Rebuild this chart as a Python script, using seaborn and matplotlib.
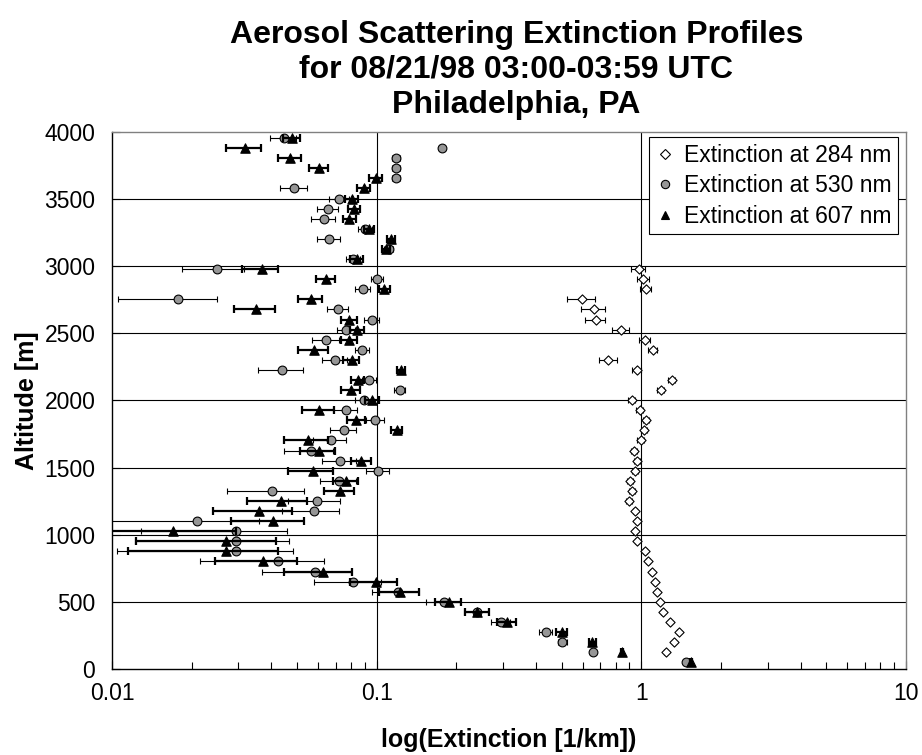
import numpy as np
import pandas as pd
import matplotlib
matplotlib.use("Agg")
import matplotlib.pyplot as plt
import seaborn as sns
from matplotlib.lines import Line2D
from matplotlib.ticker import FixedLocator, LogLocator, NullFormatter, FixedFormatter

# ---------------- data ----------------
altitude = [52.5, 127.5, 202.5, 277.5, 352.5, 427.5, 502.5, 577.5, 652.5, 727.5,
            802.5, 877.5, 952.5, 1027.5, 1102.5, 1177.5, 1252.5, 1327.5, 1402.5, 1477.5,
            1552.5, 1627.5, 1702.5, 1777.5, 1852.5, 1927.5, 2002.5, 2077.5, 2152.5, 2227.5,
            2302.5, 2377.5, 2452.5, 2527.5, 2602.5, 2677.5, 2752.5, 2827.5, 2902.5, 2977.5,
            3052.5, 3127.5, 3202.5, 3277.5, 3352.5, 3427.5, 3502.5, 3577.5, 3652.5, 3727.5,
            3802.5, 3877.5, 3952.5]

ext_284 = [np.nan, 1.235, 1.328, 1.383, 1.282, 1.204, 1.176, 1.148, 1.126, 1.093,
           1.059, 1.032, 0.960, 0.946, 0.960, 0.946, 0.900, 0.922, 0.906, 0.948,
           0.965, 0.940, 0.996, 1.023, 1.041, 0.988, 0.919, 1.183, 1.305, 0.960,
           0.750, 1.103, 1.032, 0.838, 0.672, 0.662, 0.597, 1.038, 1.017, 0.977,
           np.nan, np.nan, np.nan, np.nan, np.nan, np.nan, np.nan, np.nan, np.nan, np.nan,
           np.nan, np.nan, np.nan]
err_284 = [np.nan, 0.015, 0.015, 0.015, 0.015, 0.015, 0.015, 0.015, 0.015, 0.015,
           0.015, 0.015, 0.015, 0.015, 0.015, 0.015, 0.025, 0.025, 0.025, 0.025,
           0.025, 0.025, 0.030, 0.030, 0.030, 0.030, 0.030, 0.040, 0.040, 0.040,
           0.060, 0.040, 0.050, 0.060, 0.060, 0.070, 0.072, 0.050, 0.050, 0.060,
           np.nan, np.nan, np.nan, np.nan, np.nan, np.nan, np.nan, np.nan, np.nan, np.nan,
           np.nan, np.nan, np.nan]

ext_530 = [1.474, 0.658, 0.5025, 0.435, 0.2948, 0.2385, 0.180, 0.120, 0.0812, 0.0585,
           0.0425, 0.0294, 0.0294, 0.0294, 0.0209, 0.0580, 0.0597, 0.0401, 0.0723, 0.1009,
           0.0727, 0.0566, 0.0670, 0.0752, 0.0988, 0.0766, 0.0898, 0.1225, 0.0938, 0.0440,
           0.0696, 0.0880, 0.0643, 0.0766, 0.0957, 0.0716, 0.0177, 0.0885, 0.1005, 0.0249,
           0.0816, 0.1110, 0.0659, 0.0903, 0.0631, 0.0657, 0.0723, 0.0488, 0.1180, 0.1180,
           0.1180, 0.1760, 0.0447]
err_530 = [0.010, 0.010, 0.020, 0.025, 0.025, 0.025, 0.026, 0.024, 0.023, 0.0216,
           0.021, 0.019, 0.0172, 0.0165, 0.015, 0.014, 0.0133, 0.013, 0.011, 0.010,
           0.0105, 0.012, 0.0095, 0.0085, 0.0075, 0.008, 0.007, 0.006, 0.006, 0.0085,
           0.0075, 0.0055, 0.0075, 0.006, 0.006, 0.0065, 0.0072, 0.006, 0.0055, 0.0065,
           0.005, 0.004, 0.0065, 0.0055, 0.0065, 0.006, 0.0065, 0.0058, 0.004, 0.004,
           0.004, 0.002, 0.005]

ext_607 = [1.539, 0.845, 0.6527, 0.501, 0.3098, 0.240, 0.1876, 0.123, 0.0993, 0.0625,
           0.0373, 0.027, 0.027, 0.017, 0.0407, 0.036, 0.0435, 0.0727, 0.0766, 0.0573,
           0.0873, 0.0603, 0.0552, 0.119, 0.0835, 0.0607, 0.096, 0.0798, 0.0849, 0.1236,
           0.0804, 0.0581, 0.0788, 0.0845, 0.0788, 0.035, 0.0563, 0.107, 0.0643, 0.0368,
           0.084, 0.1084, 0.113, 0.0938, 0.0788, 0.0823, 0.0807, 0.0895, 0.0993, 0.0607,
           0.047, 0.0318, 0.0478]
err_607 = [0.010, 0.010, 0.020, 0.025, 0.025, 0.025, 0.021, 0.021, 0.020, 0.018,
           0.0127, 0.0155, 0.0147, 0.0124, 0.0125, 0.012, 0.011, 0.0095, 0.0085, 0.011,
           0.0075, 0.009, 0.0105, 0.006, 0.0065, 0.0085, 0.006, 0.0065, 0.005, 0.0045,
           0.0055, 0.0075, 0.0055, 0.005, 0.0055, 0.0062, 0.006, 0.005, 0.0055, 0.0057,
           0.005, 0.004, 0.004, 0.004, 0.0045, 0.0045, 0.0045, 0.005, 0.0055, 0.005,
           0.0048, 0.0048, 0.0035]

series_labels = ["Extinction at 284 nm", "Extinction at 530 nm", "Extinction at 607 nm"]
x_ticks = [0.01, 0.1, 1, 10]
x_tick_labels = ["0.01", "0.1", "1", "10"]
y_ticks = [0, 500, 1000, 1500, 2000, 2500, 3000, 3500, 4000]
title = "Aerosol Scattering Extinction Profiles\nfor 08/21/98 03:00-03:59 UTC\nPhiladelphia, PA"

# ---------------- figure ----------------
sns.set_style("white")
plt.rcParams['font.family'] = ['Liberation Sans', 'DejaVu Sans']
plt.rcParams['text.color'] = 'black'
plt.rcParams['axes.labelcolor'] = 'black'
plt.rcParams['xtick.color'] = 'black'
plt.rcParams['ytick.color'] = 'black'

fig = plt.figure(figsize=(9.22, 7.55), dpi=100)
ax = fig.add_axes([0.1215, 0.1135, 0.8611, 0.7121])
ax.set_xscale("log")
ax.set_xlim(0.01, 10)
ax.set_ylim(0, 4000)

# grid lines
for yv in y_ticks[1:-1]:
    ax.axhline(yv, color="black", lw=0.8, zorder=1)
for xv in x_ticks[1:-1]:
    ax.axvline(xv, color="black", lw=0.8, zorder=1)

styles = [
    dict(marker="D", s=22, color="white", edge="black", elw=0.8, cap=2.3, z=3),
    dict(marker="o", s=40, color="#969696", edge="black", elw=0.8, cap=2.5, z=4),
    dict(marker="^", s=46, color="black", edge="black", elw=1.6, cap=2.8, z=5),
]
values = [ext_284, ext_530, ext_607]
errors = [err_284, err_530, err_607]

for lab, v, e, st in zip(series_labels, values, errors, styles):
    df = pd.DataFrame({"alt": altitude, "ext": v, "err": e}).dropna()
    ax.errorbar(df["ext"], df["alt"], xerr=df["err"], fmt="none", ecolor="black",
                elinewidth=st["elw"], capsize=st["cap"], capthick=st["elw"],
                zorder=st["z"])
    sns.scatterplot(data=df, x="ext", y="alt", marker=st["marker"], s=st["s"],
                    color=st["color"], edgecolor=st["edge"], linewidth=0.8,
                    ax=ax, zorder=st["z"] + 0.5, legend=False)

# axes styling
ax.xaxis.set_major_locator(FixedLocator(x_ticks))
ax.xaxis.set_major_formatter(FixedFormatter(x_tick_labels))
ax.xaxis.set_minor_locator(LogLocator(base=10, subs=np.arange(2, 10)))
ax.xaxis.set_minor_formatter(NullFormatter())
ax.yaxis.set_major_locator(FixedLocator(y_ticks))
ax.tick_params(axis="x", which="major", direction="in", length=6, width=0.8,
               labelsize=16.5, pad=9, color="black", bottom=True)
ax.tick_params(axis="x", which="minor", direction="in", length=5, width=0.8,
               color="black", bottom=True)
ax.tick_params(axis="y", which="major", direction="in", length=6, width=0.8,
               labelsize=16.5, pad=12, color="black", left=True)

for side in ["left", "bottom"]:
    ax.spines[side].set_color("black")
    ax.spines[side].set_linewidth(1.0)
for side in ["top", "right"]:
    ax.spines[side].set_color("#808080")
    ax.spines[side].set_linewidth(1.0)

ax.set_xlabel("log(Extinction [1/km])", fontsize=18, fontweight="bold", labelpad=17)
ax.set_ylabel("Altitude [m]", fontsize=18, fontweight="bold", labelpad=4)

fig.text(0.560, 0.973, title, ha="center", va="top", fontsize=23, fontweight="bold",
         linespacing=1.2)

handles = [
    Line2D([], [], ls="none", marker="D", markersize=5, markerfacecolor="white",
           markeredgecolor="black", markeredgewidth=0.8),
    Line2D([], [], ls="none", marker="o", markersize=6, markerfacecolor="#969696",
           markeredgecolor="black", markeredgewidth=0.8),
    Line2D([], [], ls="none", marker="^", markersize=6, markerfacecolor="black",
           markeredgecolor="black", markeredgewidth=0.8),
]
leg = ax.legend(handles, series_labels, loc="upper right", bbox_to_anchor=(0.99, 0.99),
                fontsize=16.5, frameon=True, fancybox=False, framealpha=1,
                edgecolor="black", handlelength=0.8, handletextpad=0.4,
                labelspacing=0.32, borderpad=0.3, borderaxespad=0)
leg.get_frame().set_linewidth(0.8)
leg.set_zorder(10)

fig.savefig("out.png", dpi=100)
